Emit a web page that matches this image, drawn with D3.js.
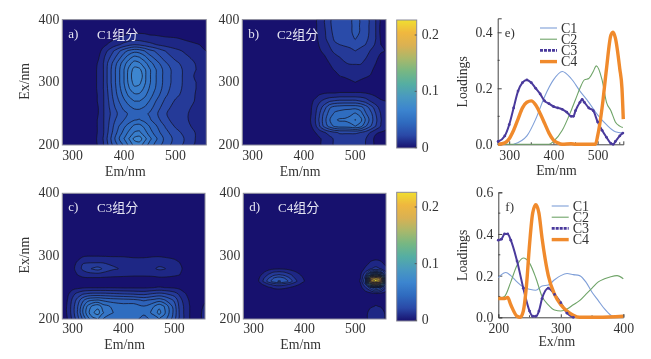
<!DOCTYPE html>
<html lang="en">
<head>
<meta charset="UTF-8">
<title>EEM components</title>
<script src="https://d3js.org/d3.v7.min.js"></script>
<style>
    html, body { margin: 0; background: #fff; }
    svg { display: block; filter: blur(0.35px); }
    text { font-family: "Liberation Serif", serif; fill: #333; }
</style>
</head>
<body>
<svg id="chart" width="651" height="359"></svg>
<script>
// contour grids. Rows go with the *Ex arrays, columns with the *Em arrays
const c1Em = [280,340,350,360,370,380,390,400,410,420,430,440,450,460,480,500,520,540,560];
const c1Ex = [200,210,220,230,240,250,260,270,280,290,300,310,320,330,340,350,360,370,380,390,400];
const c1Grid = [
    [0,.001,.006,.012,.021,.03,.037,.044,.052,.06,.061,.054,.047,.041,.031,.024,.018,.011,.008],
    [0,.001,.007,.013,.023,.033,.042,.05,.058,.067,.069,.06,.052,.045,.033,.025,.019,.012,.008],
    [0,.001,.006,.012,.021,.03,.038,.045,.052,.058,.059,.053,.046,.04,.03,.023,.017,.012,.008],
    [0,.001,.006,.012,.02,.028,.035,.041,.046,.052,.053,.048,.042,.037,.027,.019,.014,.011,.008],
    [0,.001,.006,.012,.019,.026,.031,.035,.039,.042,.043,.04,.036,.032,.023,.016,.013,.011,.008],
    [0,.001,.005,.012,.018,.024,.029,.033,.036,.038,.039,.037,.034,.03,.021,.015,.013,.011,.008],
    [0,.001,.005,.012,.019,.026,.032,.037,.041,.044,.044,.042,.038,.033,.023,.017,.014,.011,.008],
    [0,.001,.006,.012,.02,.028,.035,.041,.046,.05,.05,.047,.042,.036,.026,.019,.015,.012,.008],
    [0,.001,.006,.012,.021,.03,.038,.045,.052,.056,.056,.052,.046,.04,.029,.022,.017,.012,.008],
    [0,.001,.007,.0125,.022,.031,.04,.048,.057,.063,.062,.056,.049,.043,.031,.023,.018,.0125,.008],
    [0,.001,.007,.0125,.023,.032,.041,.05,.06,.068,.067,.059,.051,.044,.032,.024,.018,.0125,.008],
    [0,.001,.007,.0125,.023,.032,.041,.05,.061,.07,.072,.0595,.051,.044,.032,.024,.018,.011,.008],
    [0,.001,.007,.0125,.023,.032,.041,.05,.06,.068,.067,.059,.051,.044,.032,.024,.018,.0125,.008],
    [0,.001,.006,.0125,.022,.03,.039,.047,.055,.061,.059,.053,.046,.04,.029,.022,.017,.012,.008],
    [0,0,.004,.011,.018,.025,.032,.04,.047,.052,.05,.045,.038,.033,.024,.018,.014,.01,.006],
    [0,0,.002,.008,.014,.02,.026,.032,.037,.04,.039,.035,.03,.027,.02,.015,.011,.0085,.005],
    [0,0,0,.003,.006,.009,.012,.015,.018,.02,.019,.017,.015,.013,.01,.008,.007,.0055,.004],
    [0,0,0,.001,.002,.004,.006,.007,.008,.009,.009,.008,.0075,.007,.006,.0055,.004,.003,.002],
    [0,0,0,0,0,.001,.002,.003,.004,.004,.004,.004,.003,.003,.002,.001,0,0,0],
    [0,0,0,0,0,0,0,0,0,0,0,0,0,0,0,0,0,0,0],
    [0,0,0,0,0,0,0,0,0,0,0,0,0,0,0,0,0,0,0]
];

const c2Em = [280,410,420,430,440,450,460,470,480,490,500,510,520,530,540,550,560];
const c2Ex = [200,210,220,230,240,250,260,270,280,290,300,310,320,330,340,350,360,370,380,390,400];
const c2Grid = [
    [0,0,.001,.004,.007,.009,.014,.015,.015,.015,.015,.014,.0125,.008,.003,.002,.002],
    [0,0,.001,.004,.007,.0095,.014,.016,.016,.016,.016,.015,.013,.008,.003,.002,.002],
    [0,.001,.004,.008,.012,.016,.019,.021,.021,.021,.021,.02,.017,.012,.006,.0045,.004],
    [0,.002,.008,.019,.03,.038,.044,.046,.046,.047,.05,.046,.036,.028,.02,.012,.0065],
    [0,.003,.01,.021,.032,.042,.049,.051,.051,.053,.058,.053,.042,.032,.022,.013,.007],
    [0,.002,.009,.019,.03,.038,.044,.046,.047,.048,.051,.047,.036,.03,.02,.012,.0065],
    [0,.002,.008,.016,.024,.034,.038,.039,.04,.04,.04,.038,.032,.024,.016,.009,.006],
    [0,.001,.006,.011,.015,.019,.021,.022,.022,.022,.022,.02,.017,.012,.008,.006,.005],
    [0,0,.002,.005,.0065,.007,.007,.008,.008,.008,.008,.008,.007,.0055,.004,.002,.001],
    [0,0,0,0,0,0,0,0,0,0,0,0,0,0,0,0,0],
    [0,0,0,0,0,0,0,0,.002,.004,.005,.004,.002,0,0,0,0],
    [0,0,0,0,0,0,.002,.005,.006,.0065,.007,.0065,.006,.0045,.001,0,0],
    [0,0,0,0,0,.003,.0055,.007,.0085,.009,.0095,.0095,.009,.0065,.003,.001,0],
    [0,0,0,0,.002,.005,.008,.0105,.012,.013,.013,.013,.011,.0085,.005,.002,.001],
    [0,0,0,.002,.004,.008,.0105,.0125,.014,.015,.016,.015,.013,.0105,.006,.004,.002],
    [0,0,0,.004,.007,.011,.014,.015,.017,.018,.02,.018,.016,.012,.0075,.0055,.0048],
    [0,0,.001,.0055,.009,.013,.019,.02,.021,.022,.025,.022,.02,.0155,.0115,.005,.003],
    [0,0,.002,.0065,.0105,.017,.021,.022,.023,.025,.028,.025,.0215,.0185,.0125,.004,.002],
    [0,0,.003,.007,.011,.018,.022,.023,.024,.026,.03,.027,.022,.019,.0125,.003,.001],
    [0,0,.003,.007,.012,.019,.022,.023,.024,.026,.03,.027,.022,.019,.0125,.003,.001],
    [0,0,.003,.007,.012,.019,.022,.023,.024,.026,.03,.027,.022,.019,.0125,.003,.001]
];

const c3Em = [280,290,300,310,320,330,340,350,360,380,400,420,440,460,470,480,500,510,520,530,540,550,560];
const c3Ex = [200,210,220,230,240,250,260,270,280,290,300,310,400];
const c3Grid = [
    [0,.005,.014,.024,.036,.047,.055,.058,.05,.047,.046,.045,.04,.045,.05,.046,.03,.018,.011,.005,0,.003,.008],
    [0,.006,.016,.028,.042,.055,.064,.068,.058,.05,.048,.048,.044,.053,.06,.052,.032,.019,.011,.005,0,.003,.009],
    [0,.006,.016,.027,.04,.052,.06,.063,.054,.048,.046,.047,.043,.05,.056,.05,.031,.018,.011,.005,0,.002,.007],
    [0,.005,.014,.023,.033,.04,.042,.043,.041,.039,.038,.037,.034,.037,.039,.036,.026,.016,.009,.004,0,.001,.003],
    [0,.003,.01,.015,.019,.021,.022,.022,.022,.021,.02,.019,.018,.021,.022,.021,.016,.011,.006,.002,0,0,0],
    [0,0,.002,.003,.004,.0045,.0045,.0045,.0045,.0045,.004,.004,.004,.005,.0055,.005,.004,.003,.001,0,0,0,0],
    [0,0,0,0,0,0,0,0,0,0,0,0,0,0,0,0,0,0,0,0,0,0,0],
    [0,0,.002,.005,.0075,.0085,.0085,.0085,.008,.007,.0065,.006,.006,.0065,.0075,.0075,.006,.005,.002,0,0,0,0],
    [0,0,.003,.008,.014,.018,.021,.023,.019,.0135,.0115,.01,.01,.012,.0135,.013,.009,.007,.003,0,0,0,0],
    [0,0,.002,.006,.012,.012,.012,.012,.012,.011,.0095,.008,.008,.0095,.0105,.0095,.007,.005,.002,0,0,0,0],
    [0,0,0,.002,.004,.005,.005,.005,.0048,.0045,.0045,.004,.004,.0045,.0045,.004,.003,.002,0,0,0,0,0],
    [0,0,0,0,0,0,0,0,0,0,0,0,0,0,0,0,0,0,0,0,0,0,0],
    [0,0,0,0,0,0,0,0,0,0,0,0,0,0,0,0,0,0,0,0,0,0,0]
];

const c4Em = [280,300,310,320,330,340,350,360,370,380,390,400,410,500,510,520,530,540,550,560];
const c4Ex = [200,210,220,230,240,250,255,260,265,270,275,280,290,300,310,400];
const c4Grid = [
    [0,0,0,0,0,0,0,0,0,0,0,0,0,0,0,0,.012,.012,.012,.002],
    [0,0,0,0,0,0,0,0,0,0,0,0,0,0,0,0,.012,.012,.012,.002],
    [0,0,0,0,0,0,0,0,0,0,0,0,0,0,0,0,.003,.006,.004,.001],
    [0,0,0,0,0,0,0,0,0,0,0,0,0,0,0,0,0,0,0,0],
    [0,0,0,0,0,0,0,0,0,0,0,0,0,0,0,0,.001,.003,.002,.001],
    [0,0,0,.001,.004,.006,.0065,.006,.005,.003,.001,0,0,0,.002,.012,.025,.04,.03,.012],
    [0,0,.002,.006,.011,.015,.017,.015,.012,.008,.005,.002,0,0,.004,.02,.12,.17,.12,.03],
    [0,.001,.005,.014,.024,.032,.036,.033,.026,.016,.009,.005,.001,0,.006,.03,.2,.23,.2,.04],
    [0,0,.004,.012,.02,.028,.031,.028,.021,.013,.008,.004,0,0,.005,.025,.19,.22,.19,.035],
    [0,0,.002,.008,.014,.019,.021,.019,.015,.01,.006,.002,0,0,.004,.02,.08,.11,.08,.02],
    [0,0,0,.004,.009,.012,.013,.012,.009,.006,.003,0,0,0,.002,.013,.03,.04,.03,.013],
    [0,0,0,0,.002,.004,.0045,.004,.003,.001,0,0,0,0,0,.007,.012,.015,.012,.007],
    [0,0,0,0,0,0,0,0,0,0,0,0,0,0,0,.001,.006,.007,.006,.002],
    [0,0,0,0,0,0,0,0,0,0,0,0,0,0,0,0,0,.002,.001,0],
    [0,0,0,0,0,0,0,0,0,0,0,0,0,0,0,0,0,0,0,0],
    [0,0,0,0,0,0,0,0,0,0,0,0,0,0,0,0,0,0,0,0]
];

// loading curves, panel e (Em)
const emC1 = [[310,0],[340,.03],[360,.09],[380,.17],[400,.23],[420,.26],[440,.235],[460,.19],[480,.15],[500,.105],[520,.07],[540,.045],[557,.04]];
const emC2 = [[275,0],[390,0],[400,.01],[420,.05],[440,.12],[450,.16],[460,.2],[470,.23],[480,.235],[490,.26],[497,.28],[510,.23],[520,.15],[530,.12],[540,.08],[550,.065],[557,.06]];
const emC3 = [[275,.01],[290,.03],[300,.07],[310,.13],[320,.19],[330,.22],[340,.23],[350,.22],[360,.2],[370,.18],[380,.155],[390,.145],[400,.135],[410,.13],[420,.125],[430,.115],[440,.1],[445,.1],[450,.12],[460,.15],[465,.16],[470,.15],[480,.13],[490,.12],[500,.08],[510,.05],[520,.025],[530,.003],[535,0],[540,.01],[550,.03],[557,.04]];
const emC4 = [[275,0],[290,.005],[300,.02],[310,.05],[320,.09],[330,.13],[340,.15],[350,.155],[360,.14],[370,.11],[380,.075],[390,.04],[400,.015],[410,.005],[420,0],[440,.002],[450,0],[495,0],[500,.03],[510,.13],[520,.27],[530,.39],[535,.4],[540,.38],[550,.27],[555,.2],[558,.09]];

// loading curves, panel f (Ex)
const exC1 = [[200,.19],[205,.205],[212,.215],[220,.2],[230,.17],[240,.145],[250,.135],[260,.13],[270,.15],[280,.155],[290,.18],[300,.2],[310,.21],[320,.205],[330,.2],[340,.17],[350,.12],[360,.08],[370,.04],[380,.01],[390,0],[400,0]];
const exC2 = [[200,.09],[210,.1],[220,.17],[230,.25],[240,.285],[250,.26],[260,.19],[270,.1],[280,.06],[290,.035],[300,.03],[310,.04],[320,.06],[330,.08],[340,.11],[350,.14],[360,.17],[370,.185],[380,.195],[390,.2],[400,.185]];
const exC3 = [[200,.37],[205,.375],[210,.4],[215,.4],[220,.37],[230,.27],[240,.14],[250,.03],[255,.005],[260,.005],[265,.03],[270,.09],[280,.14],[290,.11],[300,.07],[310,.02],[320,0]];
const exC4 = [[200,.09],[210,.09],[215,.095],[220,.06],[230,.005],[235,0],[240,.03],[245,.15],[250,.35],[255,.5],[260,.54],[265,.5],[270,.38],[280,.2],[290,.11],[300,.06],[310,.03],[320,.01],[330,0],[360,0],[400,.005]];

const seriesNames = ["C1","C2","C3","C4"];
const seriesColors = ["#7f9fd8","#6fa468","#4a3a9c","#f08a2c"];
const seriesWidths = [1.1,1.1,2,3.4];

const levels = d3.range(.005, .24, .0075);
const ramp = ["#17116e","#2a4aa8","#2f6cc0","#3d86d0","#4a9abf","#56b0a0","#7ab880","#b0b868","#e0b050","#f2b83c","#f0e62e"];
const color = d3.scaleLinear().domain(d3.range(11).map(i => i * .023)).range(ramp);

const svg = d3.select("#chart");
const fontSize = 13.8;

function contourPanel(p, grid, emCols, exRows, letter, title) {
    const x = d3.scaleLinear().domain([280, 560]).range([p.x0, p.x1]);
    const y = d3.scaleLinear().domain([200, 400]).range([p.y1, p.y0]);
    const g = svg.append("g");
    const id = "clip" + letter;
    g.append("clipPath").attr("id", id).append("rect")
        .attr("x", p.x0).attr("y", p.y0).attr("width", p.x1 - p.x0).attr("height", p.y1 - p.y0);

    const contours = d3.contours().size([emCols.length, exRows.length]).thresholds(levels)(grid.flat());
    // grid samples sit at i + 0.5 in contour coordinates, columns and rows are not evenly spaced
    const emAt = d3.scaleLinear().domain(d3.range(emCols.length)).range(emCols);
    const exAt = d3.scaleLinear().domain(d3.range(exRows.length)).range(exRows);
    const ringPath = d3.line()
        .x(d => x(emAt(d[0] - .5))).y(d => y(exAt(d[1] - .5)))
        .curve(d3.curveCatmullRomClosed.alpha(.5));

    const plot = g.append("g").attr("clip-path", "url(#" + id + ")");
    plot.append("rect").attr("x", p.x0).attr("y", p.y0).attr("width", p.x1 - p.x0).attr("height", p.y1 - p.y0)
        .attr("fill", color(0));
    plot.selectAll("path").data(contours.filter(c => c.coordinates.length)).join("path")
        .attr("d", c => c.coordinates.map(poly => poly.map(r => ringPath(r.slice(0, -1))).join("")).join(""))
        .attr("fill-rule", "evenodd")
        .attr("fill", c => color(c.value + .004))
        .attr("stroke", "#141428")
        .attr("stroke-width", .75);

    g.append("rect").attr("x", p.x0).attr("y", p.y0).attr("width", p.x1 - p.x0).attr("height", p.y1 - p.y0)
        .attr("fill", "none").attr("stroke", "#8a8a9a").attr("stroke-width", 1);

    g.append("g").selectAll("text").data([300, 400, 500]).join("text")
        .attr("x", d => x(d)).attr("y", p.y1 + p.tickY).attr("text-anchor", "middle")
        .attr("font-size", fontSize).text(d => d);
    g.append("g").selectAll("text").data([200, 300, 400]).join("text")
        .attr("x", p.x0 - 3).attr("y", d => y(d) + 4).attr("text-anchor", "end")
        .attr("font-size", fontSize).text(d => d);
    g.append("text").attr("x", (p.x0 + p.x1) / 2 + p.labelDx).attr("y", p.y1 + p.tickY + 16).attr("text-anchor", "middle")
        .attr("font-size", fontSize).text("Em/nm");
    if (p.ylabel) {
        g.append("text").attr("transform", "translate(" + (p.x0 - 33) + "," + ((p.y0 + p.y1) / 2 - 1) + ") rotate(-90)")
            .attr("text-anchor", "middle").attr("font-size", fontSize).text("Ex/nm");
    }
    g.append("text").attr("x", p.x0 + 6).attr("y", p.y0 + 18).attr("font-size", 13)
        .style("fill", "#e4e4f2").text(letter + ")");
    g.append("text").attr("x", p.x0 + 34.7).attr("y", p.y0 + 19).attr("font-size", 13)
        .style("fill", "#e4e4f2").style("font-family", '"Liberation Serif","Noto Sans CJK SC",serif').text(title);
}

function colorbar(p) {
    const y = d3.scaleLinear().domain([0, .2]).range([p.y0, p.y02]);
    const g = svg.append("g");
    const top = y.invert(p.y1), id = "bar" + Math.round(p.y0);
    const grad = g.append("linearGradient").attr("id", id).attr("x1", 0).attr("x2", 0).attr("y1", 1).attr("y2", 0);
    grad.selectAll("stop").data(d3.range(11)).join("stop")
        .attr("offset", i => i / 10).attr("stop-color", i => color(i / 10 * top));
    g.append("rect").attr("x", p.x0).attr("width", p.x1 - p.x0).attr("y", p.y1).attr("height", p.yb - p.y1)
        .attr("fill", "url(#" + id + ")").attr("stroke", "#8a8a9a");
    g.selectAll("text").data([0, .1, .2]).join("text")
        .attr("x", p.x1 + 5).attr("y", d => y(d) + 4).attr("font-size", fontSize).text(d => d);
    g.selectAll("line").data([0, .1, .2]).join("line")
        .attr("x1", p.x1 - 2).attr("x2", p.x1).attr("y1", d => y(d)).attr("y2", d => y(d)).attr("stroke", "#555");
}

function linePanel(p, curves, xDomain, xTicks, xMinor, yDomain, yTicks, yMinor, xLabel, letter) {
    const x = d3.scaleLinear().domain(xDomain).range([p.x0, p.x1]);
    const y = d3.scaleLinear().domain(yDomain).range([p.y1, p.y0]);
    const g = svg.append("g");
    const line = d3.line().x(d => x(d[0])).y(d => y(d[1])).curve(d3.curveMonotoneX);

    const axisB = d3.axisBottom(x).tickValues(xTicks).tickFormat(d => d).tickSize(-3).tickPadding(6);
    const axisL = d3.axisLeft(y).tickValues(yTicks).tickFormat(d3.format(".1f")).tickSize(-4).tickPadding(5);
    const ax = g.append("g").attr("transform", "translate(0," + p.y1 + ")").call(axisB);
    const ay = g.append("g").attr("transform", "translate(" + p.x0 + ",0)").call(axisL);
    [ax, ay].forEach(a => {
        a.select(".domain").attr("stroke", "#444");
        a.selectAll("line").attr("stroke", "#444");
        a.selectAll("text").attr("font-size", fontSize).attr("font-family", '"Liberation Serif", serif').attr("fill", "#333");
    });
    g.selectAll(".xm").data(xMinor).join("line").attr("class", "xm")
        .attr("x1", d => x(d)).attr("x2", d => x(d)).attr("y1", p.y1).attr("y2", p.y1 - 2).attr("stroke", "#444");
    g.selectAll(".ym").data(yMinor).join("line").attr("class", "ym")
        .attr("x1", p.x0).attr("x2", p.x0 + 2).attr("y1", d => y(d)).attr("y2", d => y(d)).attr("stroke", "#444");

    curves.forEach((c, i) => {
        g.append("path").attr("d", line(c)).attr("fill", "none")
            .attr("stroke", seriesColors[i]).attr("stroke-width", seriesWidths[i])
            .attr("stroke-linejoin", "round");
    });
    g.selectAll("circle").data(curves[2]).join("circle")
        .attr("cx", d => x(d[0])).attr("cy", d => y(d[1])).attr("r", 1.4).attr("fill", seriesColors[2]);

    g.append("text").attr("x", (p.x0 + p.x1) / 2 - 4).attr("y", p.y1 + p.labelY).attr("text-anchor", "middle")
        .attr("font-size", fontSize).text(xLabel);
    g.append("text").attr("transform", "translate(" + (p.x0 - 31) + "," + (p.y0 + p.y1 + 1) / 2 + ") rotate(-90)")
        .attr("text-anchor", "middle").attr("font-size", fontSize).text("Loadings");
    g.append("text").attr("x", p.x0 + 7).attr("y", p.lettery).attr("font-size", 13).text(letter + ")");

    seriesNames.forEach((n, i) => {
        const ly = p.legY + i * p.legStep;
        g.append("line").attr("x1", p.legX).attr("x2", p.legX + 17).attr("y1", ly).attr("y2", ly)
            .attr("stroke", seriesColors[i]).attr("stroke-width", i === 2 ? 2.6 : seriesWidths[i])
            .attr("stroke-dasharray", i === 2 ? "3 1" : null);
        g.append("text").attr("x", p.legX + 21).attr("y", ly + 4.5).attr("font-size", 14).text(n);
    });
}

contourPanel({x0: 62.3, x1: 206.3, y0: 19.6, y1: 145, ylabel: true, tickY: 15, labelDx: -9}, c1Grid, c1Em, c1Ex, "a", "C1组分");
contourPanel({x0: 242.3, x1: 386, y0: 19.6, y1: 145, tickY: 15, labelDx: -14}, c2Grid, c2Em, c2Ex, "b", "C2组分");
contourPanel({x0: 62.3, x1: 205, y0: 193.3, y1: 319, ylabel: true, tickY: 14, labelDx: -9}, c3Grid, c3Em, c3Ex, "c", "C3组分");
contourPanel({x0: 243.3, x1: 386, y0: 193.3, y1: 319, tickY: 14, labelDx: -14}, c4Grid, c4Em, c4Ex, "d", "C4组分");
colorbar({x0: 396.7, x1: 416.7, y0: 147.7, y02: 35, y1: 20, yb: 148});
colorbar({x0: 396.7, x1: 416.7, y0: 320.3, y02: 207, y1: 192.3, yb: 321});

linePanel({x0: 497.7, x1: 623.3, y0: 18.3, y1: 144.3, labelY: 31, lettery: 37, legX: 540, legY: 28, legStep: 11.2},
    [emC1, emC2, emC3, emC4], [274, 558], [300, 400, 500], [350, 450, 550], [0, .45], [0, .2, .4], [.1, .3], "Em/nm", "e");
linePanel({x0: 498.3, x1: 623.3, y0: 192.3, y1: 317.3, labelY: 29, lettery: 211, legX: 551.7, legY: 206, legStep: 11.2},
    [exC1, exC2, exC3, exC4], [200, 400], [200, 300, 400], [250, 350], [0, .6], [0, .2, .4, .6], [.1, .3, .5], "Ex/nm", "f");
</script>
</body>
</html>
